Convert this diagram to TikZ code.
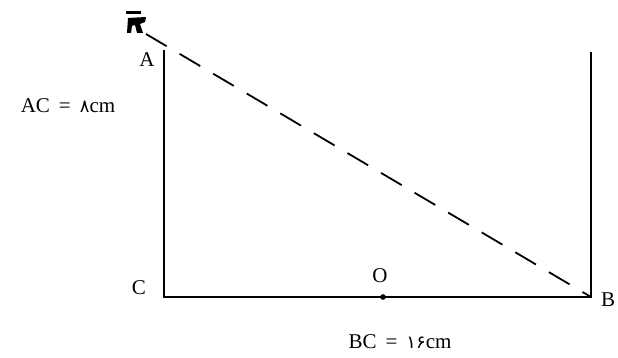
\documentclass[tikz,border=0pt]{standalone}
\usepackage{fontspec}
\setmainfont{Liberation Serif}
\newfontfamily\farsifont[Script=Arabic]{DejaVu Sans}
\usetikzlibrary{positioning}

\begin{document}
\begin{tikzpicture}[x=1pt, y=-1pt, font=\fontsize{21}{23}\selectfont]
\useasboundingbox (0,0) rectangle (618,358);

% Points
\coordinate (A) at (164,50);
\coordinate (C) at (164,297);
\coordinate (B) at (591,297);
\coordinate (Btop) at (591,52);
\coordinate (P) at (146,34);
\node[circle, fill, inner sep=2pt] (O) at (383,297) {};

% Labels
\node (labA) at (147,60) {A};
\node (labC) at (139,288) {C};
\node (labB) at (608,300) {B};
\node (labO) at (380,276) {O};
\node (labAC) at (68,106) {AC\hspace{9pt}=\hspace{9pt}{\farsifont\fontsize{18}{20}\selectfont ۸}cm};
\node (labBC) at (400,342) {BC\hspace{9pt}=\hspace{9pt}{\farsifont\fontsize{18}{20}\selectfont ۱۶}cm};

% Sides
\draw[line width=2.4pt] (A) -- (C) -- (B) -- (Btop);

% Dashed line
\draw[line width=1.8pt, dash pattern=on 24pt off 15pt] (P) -- (B);

% Mark at top
\fill (126,11) rectangle (141,14);
\fill (128,18) -- (146,17) -- (145,22) -- (140,24) -- (143,33) -- (137,33)
  -- (135,25) -- (132,26) -- (131,33) -- (127,33) -- cycle;

\end{tikzpicture}
\end{document}
